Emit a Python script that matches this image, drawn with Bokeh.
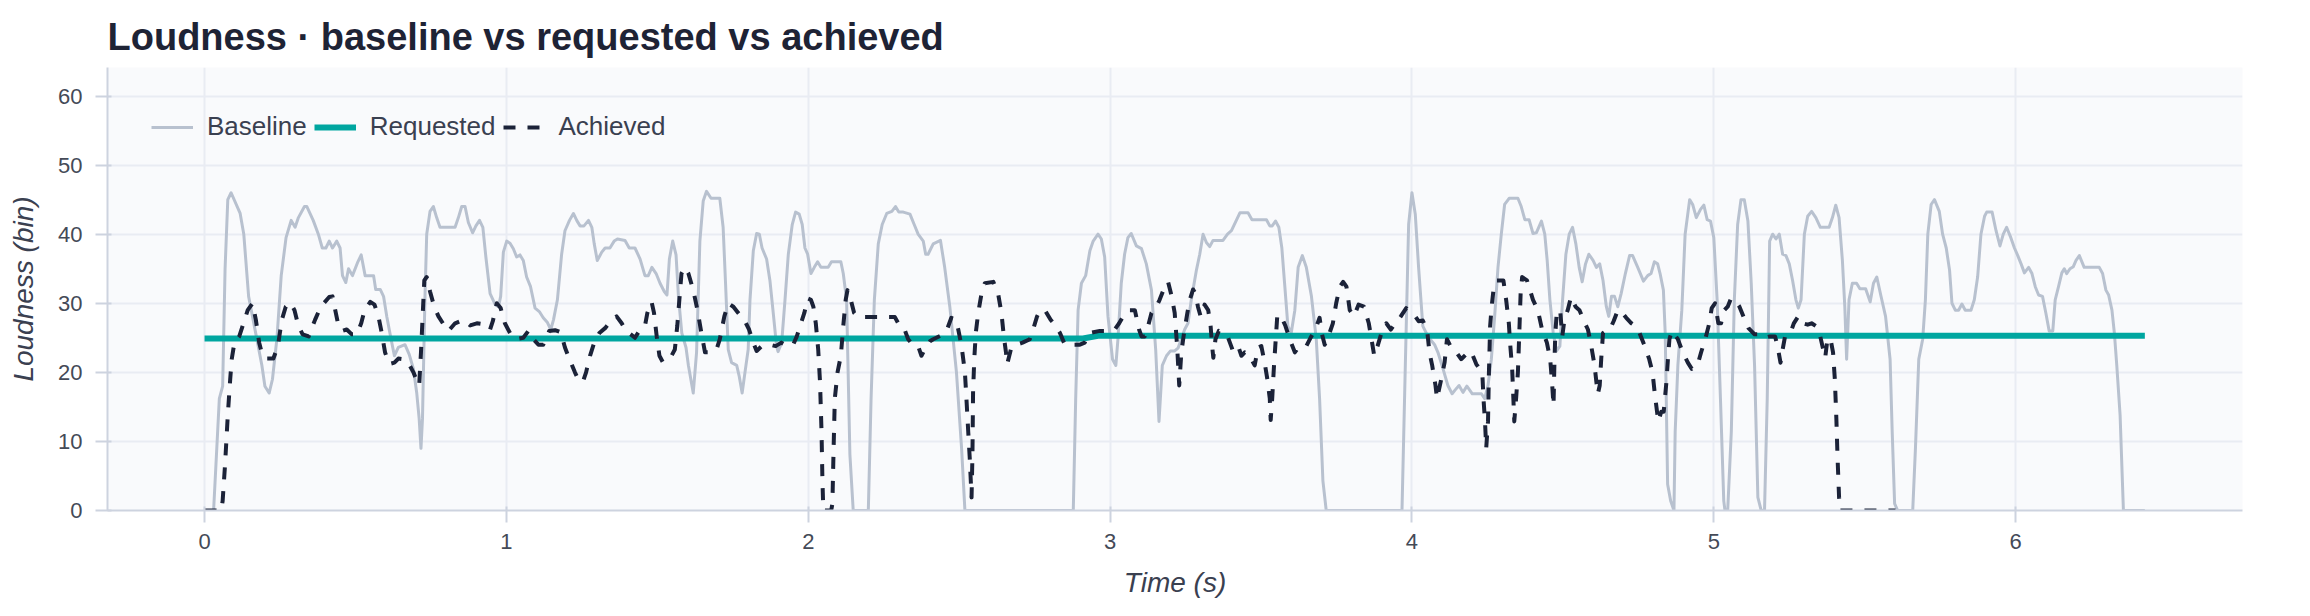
from bokeh.plotting import figure
from bokeh.models import Range1d, FixedTicker, Legend, LegendItem
from bokeh.embed import file_html
from bokeh.resources import INLINE

title_text = "Loudness · baseline vs requested vs achieved"
x_label = "Time (s)"
y_label = "Loudness (bin)"
series_names = ["Baseline", "Requested", "Achieved"]
x_ticks = [0, 1, 2, 3, 4, 5, 6]
y_ticks = [0, 10, 20, 30, 40, 50, 60]

baseline_points = [
    (0.000, 0), (0.030, 0), (0.049, 16.2), (0.060, 18), (0.068, 35), (0.077, 45), (0.088, 46),
    (0.118, 43), (0.130, 40), (0.146, 31), (0.168, 26), (0.190, 21), (0.200, 18), (0.214, 17),
    (0.225, 19), (0.240, 25), (0.254, 34), (0.270, 39.5), (0.287, 42), (0.300, 41), (0.311, 42.4),
    (0.331, 44), (0.339, 44), (0.360, 42), (0.377, 40), (0.390, 38), (0.402, 38), (0.413, 39),
    (0.424, 38), (0.438, 39), (0.449, 38), (0.457, 34), (0.468, 33), (0.477, 35), (0.490, 34),
    (0.508, 36), (0.519, 37), (0.532, 34), (0.560, 34), (0.567, 32), (0.582, 32), (0.593, 31),
    (0.604, 28), (0.618, 24.8), (0.629, 22.4), (0.642, 23.6), (0.664, 24), (0.678, 22.6),
    (0.692, 20.5), (0.703, 17), (0.711, 13.3), (0.717, 9), (0.722, 13.3), (0.730, 30.5),
    (0.736, 40), (0.747, 43.3), (0.758, 44), (0.769, 42.4), (0.780, 41), (0.830, 41),
    (0.841, 42.4), (0.852, 44), (0.863, 44), (0.874, 41.7), (0.888, 40.2), (0.899, 41.2),
    (0.911, 42), (0.922, 41), (0.932, 36.7), (0.946, 31.4), (0.963, 29.8), (0.974, 29.5),
    (0.981, 31), (0.990, 37.4), (1.001, 39), (1.012, 38.7), (1.023, 37.9), (1.034, 36.7),
    (1.045, 37), (1.056, 36.2), (1.067, 33.8), (1.080, 32.4), (1.095, 29.3), (1.109, 28.8),
    (1.122, 27.9), (1.136, 27.2), (1.147, 26.2), (1.156, 27.6), (1.169, 30.5), (1.183, 37.1),
    (1.194, 40.5), (1.209, 42), (1.222, 43), (1.233, 42), (1.244, 41.2), (1.257, 41.2),
    (1.272, 42), (1.283, 41), (1.291, 38.6), (1.301, 36.2), (1.316, 37.4), (1.327, 38),
    (1.343, 38), (1.357, 39), (1.368, 39.3), (1.393, 39.1), (1.407, 38), (1.426, 38),
    (1.443, 36.4), (1.459, 34), (1.470, 34), (1.482, 35.2), (1.496, 34.3), (1.509, 32.9),
    (1.523, 31.7), (1.532, 31.2), (1.540, 36.4), (1.551, 39), (1.562, 37), (1.570, 31),
    (1.581, 25.7), (1.595, 23.6), (1.603, 21), (1.619, 17), (1.630, 22.9), (1.641, 39),
    (1.652, 44.8), (1.663, 46.2), (1.678, 45.2), (1.707, 45.2), (1.718, 41), (1.726, 32.9),
    (1.735, 23.3), (1.746, 21.4), (1.763, 21), (1.771, 19.5), (1.781, 17), (1.792, 20.5),
    (1.801, 23.3), (1.807, 30.5), (1.818, 37.6), (1.829, 40.1), (1.838, 40), (1.847, 38),
    (1.862, 36.4), (1.873, 33.3), (1.884, 28.6), (1.895, 23.8), (1.900, 23), (1.912, 24.3),
    (1.923, 30.5), (1.934, 37.1), (1.947, 41.4), (1.958, 43.2), (1.970, 42.9), (1.980, 41.4),
    (1.989, 38), (1.998, 37.1), (2.009, 34.3), (2.020, 35.2), (2.031, 36), (2.042, 35.2),
    (2.066, 35.2), (2.077, 36), (2.108, 36), (2.116, 34.3), (2.127, 30.5), (2.138, 8.1),
    (2.149, 0), (2.199, 0), (2.208, 16), (2.219, 30.5), (2.232, 38.6), (2.245, 41.4),
    (2.260, 43), (2.277, 43.3), (2.289, 44), (2.300, 43.2), (2.315, 43.2), (2.337, 42.9),
    (2.351, 41.4), (2.364, 40), (2.381, 39), (2.389, 37.1), (2.397, 37.1), (2.414, 38.6),
    (2.438, 39.1), (2.452, 35.2), (2.469, 29.5), (2.491, 20), (2.508, 9), (2.519, 0),
    (2.878, 0), (2.886, 16.2), (2.894, 29), (2.905, 32.9), (2.919, 34), (2.933, 37.6),
    (2.944, 39), (2.960, 40), (2.971, 39.3), (2.982, 36.7), (2.993, 28.1), (3.008, 21.9),
    (3.019, 21), (3.026, 24.8), (3.037, 32.9), (3.048, 37.1), (3.059, 39.5), (3.070, 40.1),
    (3.087, 38.3), (3.104, 37.9), (3.120, 35.7), (3.137, 31.9), (3.151, 23.3), (3.162, 12.9),
    (3.173, 21), (3.187, 22.4), (3.200, 23.1), (3.214, 23.1), (3.225, 23.5), (3.247, 26.2),
    (3.258, 27.1), (3.269, 30.5), (3.286, 34.8), (3.297, 37.1), (3.308, 40), (3.319, 38.8),
    (3.330, 38.2), (3.341, 39.1), (3.374, 39.1), (3.389, 40), (3.402, 40.5), (3.415, 41.7),
    (3.430, 43.1), (3.457, 43.1), (3.470, 42.1), (3.518, 42.1), (3.529, 41.2), (3.537, 41.2),
    (3.548, 41.9), (3.559, 41), (3.569, 38), (3.578, 32.9), (3.589, 26.7), (3.600, 25.7),
    (3.612, 29), (3.623, 35.2), (3.637, 36.9), (3.650, 35.2), (3.667, 31), (3.683, 24.8),
    (3.694, 16.2), (3.705, 4.3), (3.716, 0), (3.967, 0), (3.978, 21), (3.989, 41.4),
    (4.000, 46), (4.011, 42.9), (4.022, 35.2), (4.036, 26.7), (4.053, 25.2), (4.075, 24),
    (4.086, 22.9), (4.103, 20.5), (4.119, 18.1), (4.133, 16.9), (4.144, 17.5), (4.156, 18.1),
    (4.169, 17.1), (4.182, 18), (4.200, 16.9), (4.230, 16.9), (4.241, 16.2), (4.252, 18.1),
    (4.263, 21.9), (4.274, 28.1), (4.285, 35.2), (4.296, 40), (4.307, 44.3), (4.322, 45.2),
    (4.351, 45.2), (4.362, 44), (4.374, 42.1), (4.388, 42.1), (4.401, 40.1), (4.412, 40.2),
    (4.429, 41.9), (4.440, 40), (4.448, 36.2), (4.457, 30.5), (4.468, 25.7), (4.479, 23.1),
    (4.490, 23.8), (4.499, 30.5), (4.510, 37.1), (4.521, 40), (4.532, 41), (4.543, 38.6),
    (4.554, 35.2), (4.564, 33.1), (4.575, 35.7), (4.586, 37.1), (4.600, 36.2), (4.611, 35.2),
    (4.622, 35.7), (4.633, 33.3), (4.644, 29.5), (4.652, 28.1), (4.661, 31), (4.671, 31),
    (4.682, 29.5), (4.693, 31.4), (4.707, 34.3), (4.721, 36.9), (4.731, 36.9), (4.748, 35.2),
    (4.767, 33.2), (4.781, 34), (4.792, 34.3), (4.803, 36), (4.814, 35.7), (4.822, 34.3),
    (4.833, 31.9), (4.839, 25.7), (4.847, 3.8), (4.857, 1.4), (4.868, 0), (4.872, 11.4),
    (4.881, 21), (4.894, 29), (4.905, 40), (4.920, 45), (4.930, 44.3), (4.942, 42.4),
    (4.956, 43.6), (4.967, 44.2), (4.978, 42.1), (4.989, 41.9), (5.000, 39.5), (5.011, 30.5),
    (5.022, 16.2), (5.033, 1.4), (5.037, 0), (5.046, 0), (5.058, 11.4), (5.068, 30.5),
    (5.079, 41.4), (5.090, 45), (5.101, 45), (5.113, 41.9), (5.124, 32.9), (5.135, 21),
    (5.146, 1.9), (5.157, 0), (5.168, 0), (5.177, 16.2), (5.185, 39), (5.195, 40),
    (5.206, 39.3), (5.217, 40), (5.228, 37.1), (5.239, 36.9), (5.250, 35.7), (5.261, 33.3),
    (5.272, 30.5), (5.280, 29.3), (5.289, 30.5), (5.300, 40), (5.311, 42.6), (5.324, 43.3),
    (5.338, 42.4), (5.353, 41), (5.382, 41), (5.393, 42.4), (5.404, 44.2), (5.415, 42.4),
    (5.426, 36.2), (5.434, 29.5), (5.440, 21.9), (5.448, 30.5), (5.459, 32.9), (5.473, 32.9),
    (5.484, 32.1), (5.503, 32.1), (5.518, 30.2), (5.529, 32.9), (5.540, 33.8), (5.553, 31.2),
    (5.569, 28.1), (5.584, 21.9), (5.591, 11.4), (5.599, 1), (5.609, 0), (5.659, 0),
    (5.668, 9), (5.679, 21.9), (5.692, 24.8), (5.701, 30.5), (5.709, 40), (5.720, 44.3),
    (5.731, 45), (5.747, 43.3), (5.758, 40), (5.770, 38), (5.781, 34.8), (5.789, 30),
    (5.800, 29), (5.811, 29), (5.822, 29.9), (5.833, 29), (5.852, 29), (5.863, 30.5),
    (5.874, 33.8), (5.885, 40), (5.897, 42.6), (5.904, 43.2), (5.922, 43.2), (5.935, 40.5),
    (5.948, 38.3), (5.959, 40), (5.970, 41), (5.984, 39.5), (5.996, 38), (6.007, 36.9),
    (6.018, 35.7), (6.029, 34.4), (6.043, 35.2), (6.054, 34.3), (6.065, 32.4), (6.076, 31.2),
    (6.089, 31), (6.100, 28.6), (6.111, 26), (6.123, 26), (6.131, 30.5), (6.142, 32.4),
    (6.153, 34.4), (6.161, 35), (6.169, 34.3), (6.180, 35), (6.191, 35.3), (6.200, 36.2),
    (6.211, 36.9), (6.227, 35.2), (6.277, 35.2), (6.288, 34.3), (6.299, 31.9), (6.308, 31.2),
    (6.319, 29), (6.327, 25.7), (6.335, 21), (6.346, 13.8), (6.357, 0), (6.428, 0),
]

requested_points = [(0.000, 24.9), (2.910, 24.9), (2.960, 25.3), (6.428, 25.3)]

achieved_points = [
    (0.000, 0), (0.055, 0), (0.060, 1.4), (0.068, 6.7), (0.077, 13.8), (0.085, 19), (0.090, 21.9),
    (0.099, 24.3), (0.115, 25.2), (0.129, 27.1), (0.143, 29), (0.159, 30), (0.170, 27.6),
    (0.181, 24.3), (0.192, 22.4), (0.206, 22), (0.228, 22), (0.243, 23.8), (0.256, 27.6),
    (0.269, 29.5), (0.284, 30.1), (0.298, 29), (0.311, 26.7), (0.325, 25.5), (0.345, 25.2),
    (0.366, 27.6), (0.385, 29.5), (0.413, 30.9), (0.424, 31), (0.433, 29), (0.444, 26.7),
    (0.457, 26), (0.471, 26.2), (0.488, 25.5), (0.504, 25.5), (0.519, 27.1), (0.530, 29),
    (0.549, 30.2), (0.563, 29.8), (0.576, 28.1), (0.587, 25.7), (0.598, 22.9), (0.611, 21.2),
    (0.629, 21.4), (0.642, 22), (0.659, 21.9), (0.675, 21.4), (0.692, 20), (0.703, 18.8),
    (0.711, 18.1), (0.717, 22.9), (0.722, 27.6), (0.728, 33.3), (0.736, 33.8), (0.747, 31.7),
    (0.761, 29.5), (0.775, 28.1), (0.791, 27), (0.808, 26), (0.830, 27.1), (0.858, 27.6),
    (0.880, 26.8), (0.902, 27.1), (0.933, 26.9), (0.946, 26.2), (0.955, 27.4), (0.968, 30),
    (0.981, 29.3), (0.995, 27.1), (1.012, 25.7), (1.032, 24.8), (1.056, 25), (1.073, 26),
    (1.089, 24.8), (1.106, 24), (1.122, 24), (1.142, 26), (1.161, 26.1), (1.180, 25.8),
    (1.194, 23.6), (1.209, 21.9), (1.227, 20), (1.238, 19), (1.253, 18.6), (1.264, 20),
    (1.277, 22.4), (1.291, 24.3), (1.308, 25.7), (1.327, 26.4), (1.349, 27.6), (1.365, 28.1),
    (1.382, 27.1), (1.396, 26), (1.412, 25.5), (1.426, 25), (1.443, 26.2), (1.459, 26.7),
    (1.467, 28.6), (1.481, 30.2), (1.489, 28.6), (1.498, 25.2), (1.507, 22.4), (1.518, 21.5),
    (1.531, 22.1), (1.547, 22.4), (1.558, 23.3), (1.566, 26.7), (1.573, 30.5), (1.580, 34.3),
    (1.591, 35.2), (1.603, 34.3), (1.619, 31.9), (1.633, 29), (1.646, 25.7), (1.658, 22.9),
    (1.674, 22.9), (1.696, 23.3), (1.707, 24.8), (1.722, 28.1), (1.735, 30), (1.752, 29.5),
    (1.768, 28.6), (1.788, 27.6), (1.804, 26.2), (1.818, 24.3), (1.829, 23.1), (1.846, 23.8),
    (1.873, 24), (1.892, 23.8), (1.911, 24.3), (1.931, 23.8), (1.950, 24), (1.962, 25.2),
    (1.976, 27.1), (1.987, 28.6), (1.998, 30.7), (2.009, 30.5), (2.017, 29.5), (2.025, 27.1),
    (2.033, 23.3), (2.039, 18.6), (2.044, 11.4), (2.047, 4.3), (2.050, 0), (2.076, 0),
    (2.080, 1), (2.084, 9), (2.088, 16.2), (2.097, 20), (2.108, 22.4), (2.116, 26.7),
    (2.124, 30.5), (2.130, 31.9), (2.141, 30.5), (2.152, 28.6), (2.166, 28), (2.287, 28),
    (2.298, 27.1), (2.315, 26.7), (2.331, 24.8), (2.348, 23.9), (2.364, 23.8), (2.375, 22.4),
    (2.389, 23.6), (2.403, 24.5), (2.414, 24.8), (2.438, 25.3), (2.458, 26), (2.474, 27.9),
    (2.489, 27.6), (2.497, 26.2), (2.508, 23.8), (2.519, 20), (2.524, 16.2), (2.530, 11.4),
    (2.535, 7.6), (2.541, 1.9), (2.544, 8.1), (2.546, 17.1), (2.550, 21.9), (2.555, 25.7),
    (2.563, 28.6), (2.574, 31.4), (2.585, 32.9), (2.613, 33.1), (2.629, 31.4), (2.640, 28.6),
    (2.648, 25.2), (2.655, 22.9), (2.659, 21.2), (2.673, 23.6), (2.690, 24), (2.710, 24.3),
    (2.734, 24.8), (2.745, 26.2), (2.758, 28.1), (2.769, 29), (2.784, 29), (2.803, 27.6),
    (2.820, 26.7), (2.834, 25.7), (2.850, 24), (2.900, 24), (2.916, 24.3), (2.927, 25.2),
    (2.932, 25.7), (2.966, 26), (2.993, 26), (3.015, 26.2), (3.030, 27.1), (3.046, 28.3),
    (3.063, 29), (3.082, 29), (3.096, 26.2), (3.104, 25.2), (3.115, 25.2), (3.126, 26.7),
    (3.137, 28.6), (3.151, 29.3), (3.164, 30.5), (3.181, 32.4), (3.192, 33.1), (3.203, 31.2),
    (3.214, 28.6), (3.222, 23.8), (3.229, 18.1), (3.236, 22.9), (3.245, 25.7), (3.256, 28.6),
    (3.264, 30.5), (3.275, 32), (3.283, 31.4), (3.291, 29.5), (3.300, 28.1), (3.313, 29.8),
    (3.325, 29), (3.333, 26.7), (3.338, 23.8), (3.342, 22.1), (3.349, 24.8), (3.360, 26),
    (3.374, 25.7), (3.391, 25), (3.407, 23.1), (3.424, 23.8), (3.435, 22.4), (3.446, 22.9),
    (3.462, 22.4), (3.479, 21), (3.490, 23.6), (3.501, 23.8), (3.512, 21.4), (3.521, 19),
    (3.529, 16.2), (3.532, 13.1), (3.537, 16.2), (3.543, 21), (3.548, 24.3), (3.554, 28.3),
    (3.567, 28.1), (3.581, 26.7), (3.595, 24.8), (3.612, 22.9), (3.628, 23.8), (3.650, 23.8),
    (3.664, 25), (3.680, 26.2), (3.694, 27.9), (3.702, 25.5), (3.711, 24), (3.727, 25.7),
    (3.738, 27.1), (3.749, 30), (3.761, 32.4), (3.772, 33.1), (3.783, 32.4), (3.794, 29),
    (3.808, 28.1), (3.823, 29.8), (3.841, 29.5), (3.857, 27.1), (3.866, 24.8), (3.875, 22.4),
    (3.886, 23.8), (3.899, 25.7), (3.915, 27.1), (3.930, 26.2), (3.945, 27.1), (3.963, 28.1),
    (3.981, 29.3), (3.998, 28.6), (4.011, 28.1), (4.022, 27.4), (4.036, 27.5), (4.050, 26.2),
    (4.058, 22.9), (4.067, 21), (4.078, 18.1), (4.083, 16.2), (4.097, 19), (4.108, 21.4),
    (4.116, 24.8), (4.130, 23.6), (4.147, 22.9), (4.163, 21.9), (4.191, 23.1), (4.202, 22.4),
    (4.213, 21.2), (4.224, 20.5), (4.233, 20), (4.237, 16.2), (4.242, 12.9), (4.246, 9),
    (4.252, 12.9), (4.255, 20), (4.259, 26.7), (4.264, 29.5), (4.270, 31.9), (4.281, 33.3),
    (4.303, 33.3), (4.312, 30.5), (4.321, 27.1), (4.325, 24.3), (4.332, 20.5), (4.336, 16.2),
    (4.339, 12.9), (4.345, 16.2), (4.351, 20), (4.356, 26.2), (4.360, 31.4), (4.365, 33.8),
    (4.381, 33.3), (4.401, 30.5), (4.417, 29), (4.431, 26.2), (4.447, 24.3), (4.458, 21.9),
    (4.464, 18.6), (4.469, 15.2), (4.472, 21.4), (4.475, 25.7), (4.480, 28.8), (4.491, 29),
    (4.498, 25.2), (4.505, 27.6), (4.516, 29), (4.527, 30.9), (4.542, 29.5), (4.555, 29),
    (4.568, 27.6), (4.583, 26.2), (4.594, 23.8), (4.605, 21), (4.611, 18.6), (4.616, 16.9),
    (4.622, 18.1), (4.627, 21.9), (4.633, 25.7), (4.644, 26), (4.655, 26.1), (4.668, 27.4),
    (4.682, 29), (4.697, 28.6), (4.710, 27.9), (4.727, 27.1), (4.741, 26.7), (4.754, 25.7),
    (4.771, 23.8), (4.786, 21.9), (4.797, 20), (4.805, 16.7), (4.816, 12.9), (4.826, 14.3),
    (4.834, 14.3), (4.843, 18.6), (4.848, 21.9), (4.853, 24.8), (4.861, 26), (4.881, 24.8),
    (4.897, 22.9), (4.914, 21.4), (4.927, 20.5), (4.947, 21.2), (4.958, 22.9), (4.974, 25.2),
    (4.985, 27.1), (4.993, 29.3), (5.004, 30), (5.015, 27.1), (5.024, 27.1), (5.035, 29),
    (5.046, 29.5), (5.057, 30.7), (5.074, 30.2), (5.085, 29.5), (5.100, 27.9), (5.115, 26.4),
    (5.135, 25.5), (5.152, 25.5), (5.168, 25), (5.185, 25.2), (5.203, 25.2), (5.212, 23.6),
    (5.221, 21.4), (5.228, 23.3), (5.236, 25.2), (5.254, 25.7), (5.265, 27.1), (5.280, 28.1),
    (5.294, 27.1), (5.311, 26.9), (5.324, 27.1), (5.338, 26.7), (5.350, 25.7), (5.361, 23.6),
    (5.369, 22.1), (5.375, 24.3), (5.386, 25), (5.395, 22.9), (5.401, 19), (5.406, 13.3),
    (5.410, 7.6), (5.415, 1.9), (5.419, 0), (5.602, 0),
]

base_t, base_v = map(list, zip(*baseline_points))
req_t, req_v = map(list, zip(*requested_points))
ach_t, ach_v = map(list, zip(*achieved_points))

FONT = "Liberation Sans"
AXIS_COLOR = "#cdd3df"
GRID_COLOR = "#e9ecf3"

p = figure(
    width=2294, height=600,
    output_backend="svg", toolbar_location=None,
    x_range=Range1d(-0.3215, 6.7515), y_range=Range1d(0, 64.13),
    min_border_left=107, min_border_right=52, min_border_top=67, min_border_bottom=84,
    background_fill_color="#f9fafc", border_fill_color="white",
    outline_line_color=None, title=title_text,
)

p.title.text_font = FONT
p.title.text_font_size = "38px"
p.title.text_font_style = "bold"
p.title.text_color = "#1e2335"
p.title.standoff = 20

r_base = p.line(base_t, base_v, line_color="#b8c1cf", line_width=3, line_join="round")
r_req = p.line(req_t, req_v, line_color="#00a6a0", line_width=6, line_join="round")
r_ach = p.line(ach_t, ach_v, line_color="#1b2238", line_width=4, line_dash="12 12",
               line_join="round")

for ax in (p.xaxis[0], p.yaxis[0]):
    ax.axis_line_color = AXIS_COLOR
    ax.axis_line_width = 2
    ax.major_tick_line_color = AXIS_COLOR
    ax.major_tick_line_width = 2
    ax.major_tick_out = 12
    ax.major_tick_in = 4
    ax.minor_tick_line_color = None
    ax.major_label_text_font = FONT
    ax.major_label_text_font_size = "22px"
    ax.major_label_text_color = "#444a57"
    ax.axis_label_text_font = FONT
    ax.axis_label_text_font_size = "28px"
    ax.axis_label_text_font_style = "italic"
    ax.axis_label_text_color = "#3a4050"

p.xaxis[0].ticker = FixedTicker(ticks=x_ticks)
p.yaxis[0].ticker = FixedTicker(ticks=y_ticks)
p.xaxis[0].axis_label = x_label
p.yaxis[0].axis_label = y_label
p.xaxis[0].major_label_standoff = 11
p.yaxis[0].major_label_standoff = 13
p.xaxis[0].axis_label_standoff = 15
p.yaxis[0].axis_label_standoff = 16

p.xgrid.grid_line_color = GRID_COLOR
p.ygrid.grid_line_color = GRID_COLOR
p.xgrid.grid_line_width = 2
p.ygrid.grid_line_width = 2
p.xgrid.ticker = FixedTicker(ticks=x_ticks)
p.ygrid.ticker = FixedTicker(ticks=y_ticks)

legend = Legend(
    items=[LegendItem(label=series_names[0], renderers=[r_base]),
           LegendItem(label=series_names[1], renderers=[r_req]),
           LegendItem(label=series_names[2], renderers=[r_ach])],
    orientation="horizontal", location=(44, 368),
    label_text_font=FONT, label_text_font_size="26px", label_text_color="#3a4050",
    glyph_width=42, glyph_height=30, label_height=30, label_standoff=14, spacing=7,
    padding=0, margin=0, background_fill_alpha=0, border_line_alpha=0,
)
p.add_layout(legend, "center")

open("out.html", "w").write(file_html(p, INLINE))
